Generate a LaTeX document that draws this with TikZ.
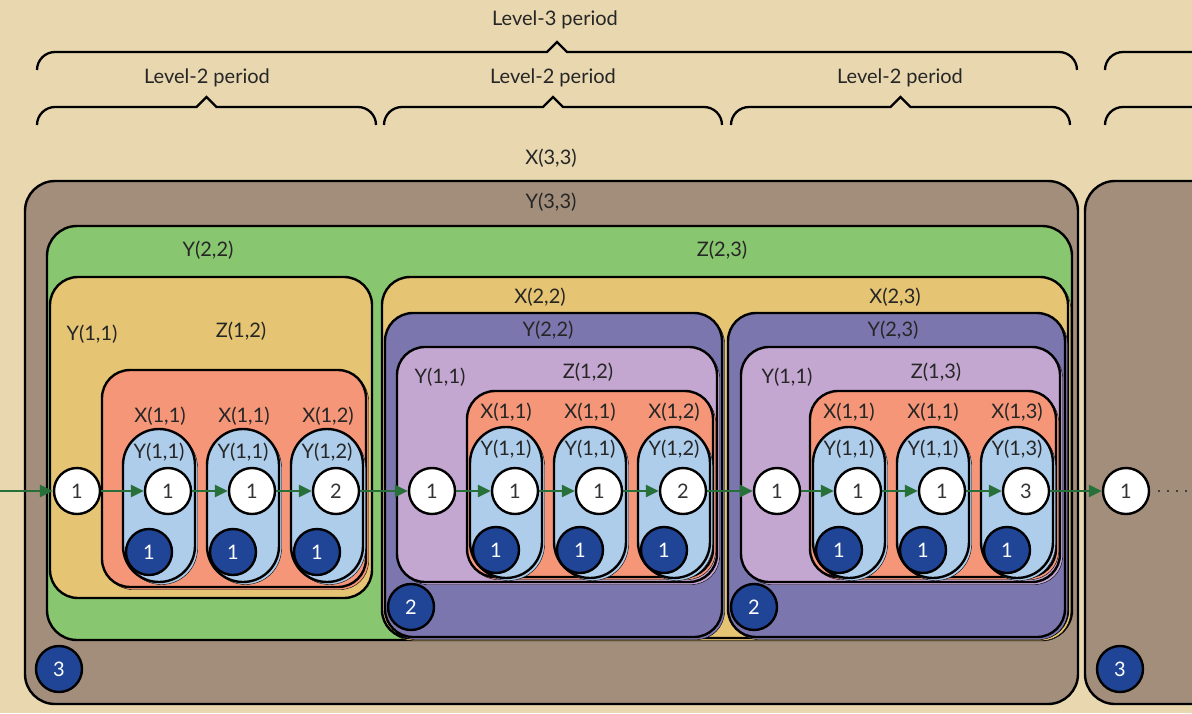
\documentclass[tikz,border=0pt]{standalone}
\usepackage{fontspec}
\setmainfont{Lato}
\usepackage{xcolor}
\usepackage{tikz}
\usetikzlibrary{arrows.meta, shadows}

\definecolor{paper}{HTML}{E8D7AF}
\definecolor{brownfill}{HTML}{A28E7B}
\definecolor{greenfill}{HTML}{88C770}
\definecolor{goldfill}{HTML}{E5C473}
\definecolor{purplefill}{HTML}{7B76AD}
\definecolor{lilacfill}{HTML}{C4A7D1}
\definecolor{salmonfill}{HTML}{F59678}
\definecolor{pillfill}{HTML}{AECDEB}
\definecolor{navy}{HTML}{214596}
\definecolor{flowgreen}{HTML}{27703A}

\begin{document}
\begin{tikzpicture}[
    x=1pt, y=-1pt,
    lbl/.style={font=\fontsize{20}{22}\selectfont, text=black!85, inner sep=1pt},
    box/.style={draw=black, line width=2.4pt, rounded corners=28pt},
    stack/.style={copy shadow={fill=#1, draw=black, shadow xshift=2.5pt, shadow yshift=-2.5pt}},
    brownbox/.style={box, rounded corners=30pt, fill=brownfill},
    greenbox/.style={box, rounded corners=30pt, fill=greenfill},
    goldbox/.style={box, fill=goldfill},
    purplebox/.style={box, fill=purplefill, stack=purplefill},
    lilacbox/.style={box, fill=lilacfill, stack=lilacfill},
    salmonbox/.style={box, fill=salmonfill, stack=salmonfill},
    pillbox/.style={box, rounded corners=36pt, fill=pillfill, stack=pillfill},
    slot/.style={circle, draw=black, line width=2.4pt, minimum size=46pt, inner sep=0pt, font=\fontsize{20}{22}\selectfont},
    valuenode/.style={slot, fill=white, text=black!80},
    countnode/.style={slot, fill=navy, text=white},
    flow/.style={-{Triangle[length=13pt, width=12pt]}, line width=2.6pt, flowgreen},
    more/.style={line width=2.2pt, black!75, dash pattern=on 2pt off 7pt},
    periodbrace/.style={draw=black, line width=2.3pt}
]

    \useasboundingbox (0,0) rectangle (1192,713);
    \fill[paper] (0,0) rectangle (1192,713);
    \clip (0,0) rectangle (1192,713);

    % Period braces on top.
    \foreach \xa/\xb/\yy in {37/1077/70, 1105/2145/70, 37/376/125, 384/722/125, 731/1070/125, 1105/1444/125}
        \draw[periodbrace] (\xa,\yy) arc[start angle=180, end angle=270, radius=18]
            -- ({(\xa+\xb)/2-10},\yy-18) -- ({(\xa+\xb)/2},\yy-28) -- ({(\xa+\xb)/2+10},\yy-18)
            -- (\xb-18,\yy-18) arc[start angle=270, end angle=360, radius=18];
    \node[lbl] (level3) at (555,20) {Level-3 period};
    \node[lbl] (level2a) at (207,78) {Level-2 period};
    \node[lbl] (level2b) at (553,78) {Level-2 period};
    \node[lbl] (level2c) at (900,78) {Level-2 period};

    % Level-3 boxes.
    \node[lbl] (x33) at (551,158) {X(3,3)};
    \draw[brownbox] (25,181) rectangle (1078,704);
    \draw[brownbox] (1085,181) rectangle (2100,704);
    \node[lbl] (y33) at (551,202) {Y(3,3)};
    \node[countnode] (k3a) at (59,669) {3};
    \node[countnode] (k3b) at (1120,669) {3};

    \draw[greenbox] (47,226) rectangle (1072,640);
    \node[lbl] (y22top) at (208,250) {Y(2,2)};
    \node[lbl] (z23) at (722,250) {Z(2,3)};

    % First level-2 period.
    \draw[goldbox] (50,277) rectangle (372,598);
    \node[lbl] (y11a) at (92,334) {Y(1,1)};
    \node[lbl] (z12a) at (241,331) {Z(1,2)};
    \draw[salmonbox] (102,370) rectangle (366,587);
    \node[lbl] (xa1) at (160,416) {X(1,1)};
    \node[lbl] (xa2) at (244,416) {X(1,1)};
    \node[lbl] (xa3) at (328,416) {X(1,2)};
    \draw[pillbox] (123,429) rectangle (195,582);
    \draw[pillbox] (207,429) rectangle (279,582);
    \draw[pillbox] (291,429) rectangle (363,582);
    \node[lbl] (ya1) at (159,452) {Y(1,1)};
    \node[lbl] (ya2) at (243,452) {Y(1,1)};
    \node[lbl] (ya3) at (327,452) {Y(1,2)};
    \node[valuenode] (a0) at (77,491) {1};
    \node[valuenode] (a1) at (168,491) {1};
    \node[valuenode] (a2) at (252,491) {1};
    \node[valuenode] (a3) at (336,491) {2};
    \node[countnode] (ka1) at (149,552) {1};
    \node[countnode] (ka2) at (233,552) {1};
    \node[countnode] (ka3) at (317,552) {1};

    % Second and third level-2 periods.
    \draw[goldbox, stack=goldfill] (382,277) rectangle (1068,638);
    \node[lbl] (x22) at (540,297) {X(2,2)};
    \node[lbl] (x23) at (895,297) {X(2,3)};

    \draw[purplebox] (385,313) rectangle (722,637);
    \node[lbl] (y22) at (548,330) {Y(2,2)};
    \draw[lilacbox] (397,347) rectangle (717,582);
    \node[lbl] (y11b) at (440,377) {Y(1,1)};
    \node[lbl] (z12b) at (588,372) {Z(1,2)};
    \draw[salmonbox] (467,391) rectangle (713,577);
    \node[lbl] (xb1) at (506,412) {X(1,1)};
    \node[lbl] (xb2) at (590,412) {X(1,1)};
    \node[lbl] (xb3) at (674,412) {X(1,2)};
    \draw[pillbox] (470,427) rectangle (542,578);
    \draw[pillbox] (554,427) rectangle (626,578);
    \draw[pillbox] (638,427) rectangle (710,578);
    \node[lbl] (yb1) at (506,449) {Y(1,1)};
    \node[lbl] (yb2) at (590,449) {Y(1,1)};
    \node[lbl] (yb3) at (674,449) {Y(1,2)};
    \node[valuenode] (b0) at (432,491) {1};
    \node[valuenode] (b1) at (515,491) {1};
    \node[valuenode] (b2) at (599,491) {1};
    \node[valuenode] (b3) at (683,491) {2};
    \node[countnode] (kb1) at (496,550) {1};
    \node[countnode] (kb2) at (580,550) {1};
    \node[countnode] (kb3) at (664,550) {1};
    \node[countnode] (k2b) at (411,607) {2};

    \draw[purplebox] (728,313) rectangle (1065,637);
    \node[lbl] (y23) at (893,330) {Y(2,3)};
    \draw[lilacbox] (741,347) rectangle (1060,582);
    \node[lbl] (y11c) at (787,377) {Y(1,1)};
    \node[lbl] (z13) at (936,372) {Z(1,3)};
    \draw[salmonbox] (810,391) rectangle (1056,577);
    \node[lbl] (xc1) at (849,412) {X(1,1)};
    \node[lbl] (xc2) at (933,412) {X(1,1)};
    \node[lbl] (xc3) at (1017,412) {X(1,3)};
    \draw[pillbox] (813,427) rectangle (885,578);
    \draw[pillbox] (897,427) rectangle (969,578);
    \draw[pillbox] (981,427) rectangle (1053,578);
    \node[lbl] (yc1) at (849,449) {Y(1,1)};
    \node[lbl] (yc2) at (933,449) {Y(1,1)};
    \node[lbl] (yc3) at (1017,449) {Y(1,3)};
    \node[valuenode] (c0) at (777,491) {1};
    \node[valuenode] (c1) at (858,491) {1};
    \node[valuenode] (c2) at (942,491) {1};
    \node[valuenode] (c3) at (1026,491) {3};
    \node[countnode] (kc1) at (839,550) {1};
    \node[countnode] (kc2) at (923,550) {1};
    \node[countnode] (kc3) at (1007,550) {1};
    \node[countnode] (k2c) at (754,607) {2};

    % Next level-3 period.
    \node[valuenode] (d0) at (1126,491) {1};
    \coordinate (entry) at (0,491);
    \coordinate (beyond) at (1196,491);

    % The flow runs through every slot.
    \draw[flow] (entry) -- (a0);
    \draw[flow] (a0) -- (a1);
    \draw[flow] (a1) -- (a2);
    \draw[flow] (a2) -- (a3);
    \draw[flow] (a3) -- (b0);
    \draw[flow] (b0) -- (b1);
    \draw[flow] (b1) -- (b2);
    \draw[flow] (b2) -- (b3);
    \draw[flow] (b3) -- (c0);
    \draw[flow] (c0) -- (c1);
    \draw[flow] (c1) -- (c2);
    \draw[flow] (c2) -- (c3);
    \draw[flow] (c3) -- (d0);
    \draw[more] ([xshift=8pt]d0.east) -- (beyond);

\end{tikzpicture}
\end{document}
